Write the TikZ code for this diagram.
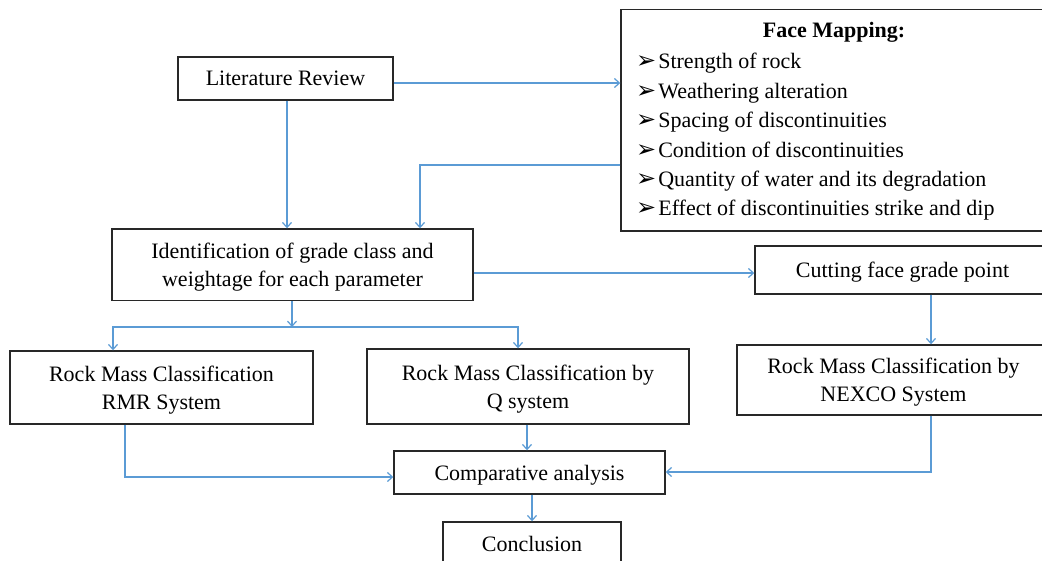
\documentclass[tikz,border=0pt]{standalone}
\usepackage{fontspec}
\setmainfont{Liberation Serif}
\newfontfamily\symfont{DejaVu Sans}
\usetikzlibrary{arrows.meta}
\definecolor{arrowblue}{RGB}{91,155,213}
\definecolor{boxline}{RGB}{40,40,40}
\newcommand{\bulletsym}{{\symfont\fontsize{24}{24}\selectfont ➢}\hspace{2pt}}
\begin{document}
\begin{tikzpicture}[x=1pt,y=-1pt,
  box/.style={draw=boxline, line width=1.4pt, inner sep=0pt, align=center,
    text depth=0pt, font=\fontsize{22}{28}\selectfont},
  conn/.style={draw=arrowblue, line width=1.2pt, -{Straight Barb[length=5pt,width=9pt]}},
  txt/.style={font=\fontsize{22}{28}\selectfont, inner sep=0pt, anchor=base west},
  ttl/.style={font=\bfseries\fontsize{22}{28}\selectfont, inner sep=0pt, anchor=base}]
\useasboundingbox (0,0) rectangle (1042,560);
\clip (0,0) rectangle (1042,560);

% boxes
\node[box, minimum width=215pt, minimum height=43pt] (lit) at (285.5,78.5) {Literature Review};
\node[box, minimum width=426pt, minimum height=221.5pt] (fm) at (834,120.25) {};
\node[box, minimum width=361pt, minimum height=71.5pt] (idn) at (292.5,264.75)
  {Identification of grade class and\\weightage for each parameter};
\node[box, minimum width=295pt, minimum height=48pt] (cut) at (902.5,270) {Cutting face grade point};
\node[box, minimum width=303pt, minimum height=73pt] (rmr) at (161.5,387.5)
  {Rock Mass Classification\\RMR System};
\node[box, minimum width=322pt, minimum height=75pt] (q) at (528,386.5)
  {Rock Mass Classification by\\Q system};
\node[box, minimum width=313pt, minimum height=70pt] (nex) at (893.5,380)
  {Rock Mass Classification by\\NEXCO System};
\node[box, minimum width=271pt, minimum height=43pt] (comp) at (529.5,472.5) {Comparative analysis};
\node[box, minimum width=178pt, minimum height=43pt] (conc) at (532,543.5) {Conclusion};

% face mapping contents
\node[ttl] (fmt) at (834,37) {Face Mapping:};
\node[txt] (fm1) at (636,68) {\bulletsym Strength of rock};
\node[txt] (fm2) at (636,98) {\bulletsym Weathering alteration};
\node[txt] (fm3) at (636,127) {\bulletsym Spacing of discontinuities};
\node[txt] (fm4) at (636,157) {\bulletsym Condition of discontinuities};
\node[txt] (fm5) at (636,186.5) {\bulletsym Quantity of water and its degradation};
\node[txt] (fm6) at (636,215) {\bulletsym Effect of discontinuities strike and dip};

% connectors
\coordinate (br) at (292,327);
\draw[conn] (lit.east |- 0,83) -- (fm.west |- 0,83);
\draw[conn] (fm.west |- 0,165) -| (idn.north -| 420,0);
\draw[conn] (lit.south -| 287,0) -- (idn.north -| 287,0);
\draw[conn] (idn.east |- 0,273) -- (cut.west |- 0,273);
\draw[conn] (cut.south -| 931,0) -- (nex.north -| 931,0);
\draw[conn] (idn.south -| br) -- (br);
\draw[conn] (br) -| (rmr.north -| 113,0);
\draw[conn] (br) -| (q.north -| 518,0);
\draw[conn] (q.south -| 527,0) -- (comp.north -| 527,0);
\draw[conn] (rmr.south -| 125,0) |- (comp.west |- 0,477);
\draw[conn] (nex.south -| 931,0) |- (comp.east |- 0,472);
\draw[conn] (comp.south -| 532,0) -- (conc.north -| 532,0);
\end{tikzpicture}
\end{document}
